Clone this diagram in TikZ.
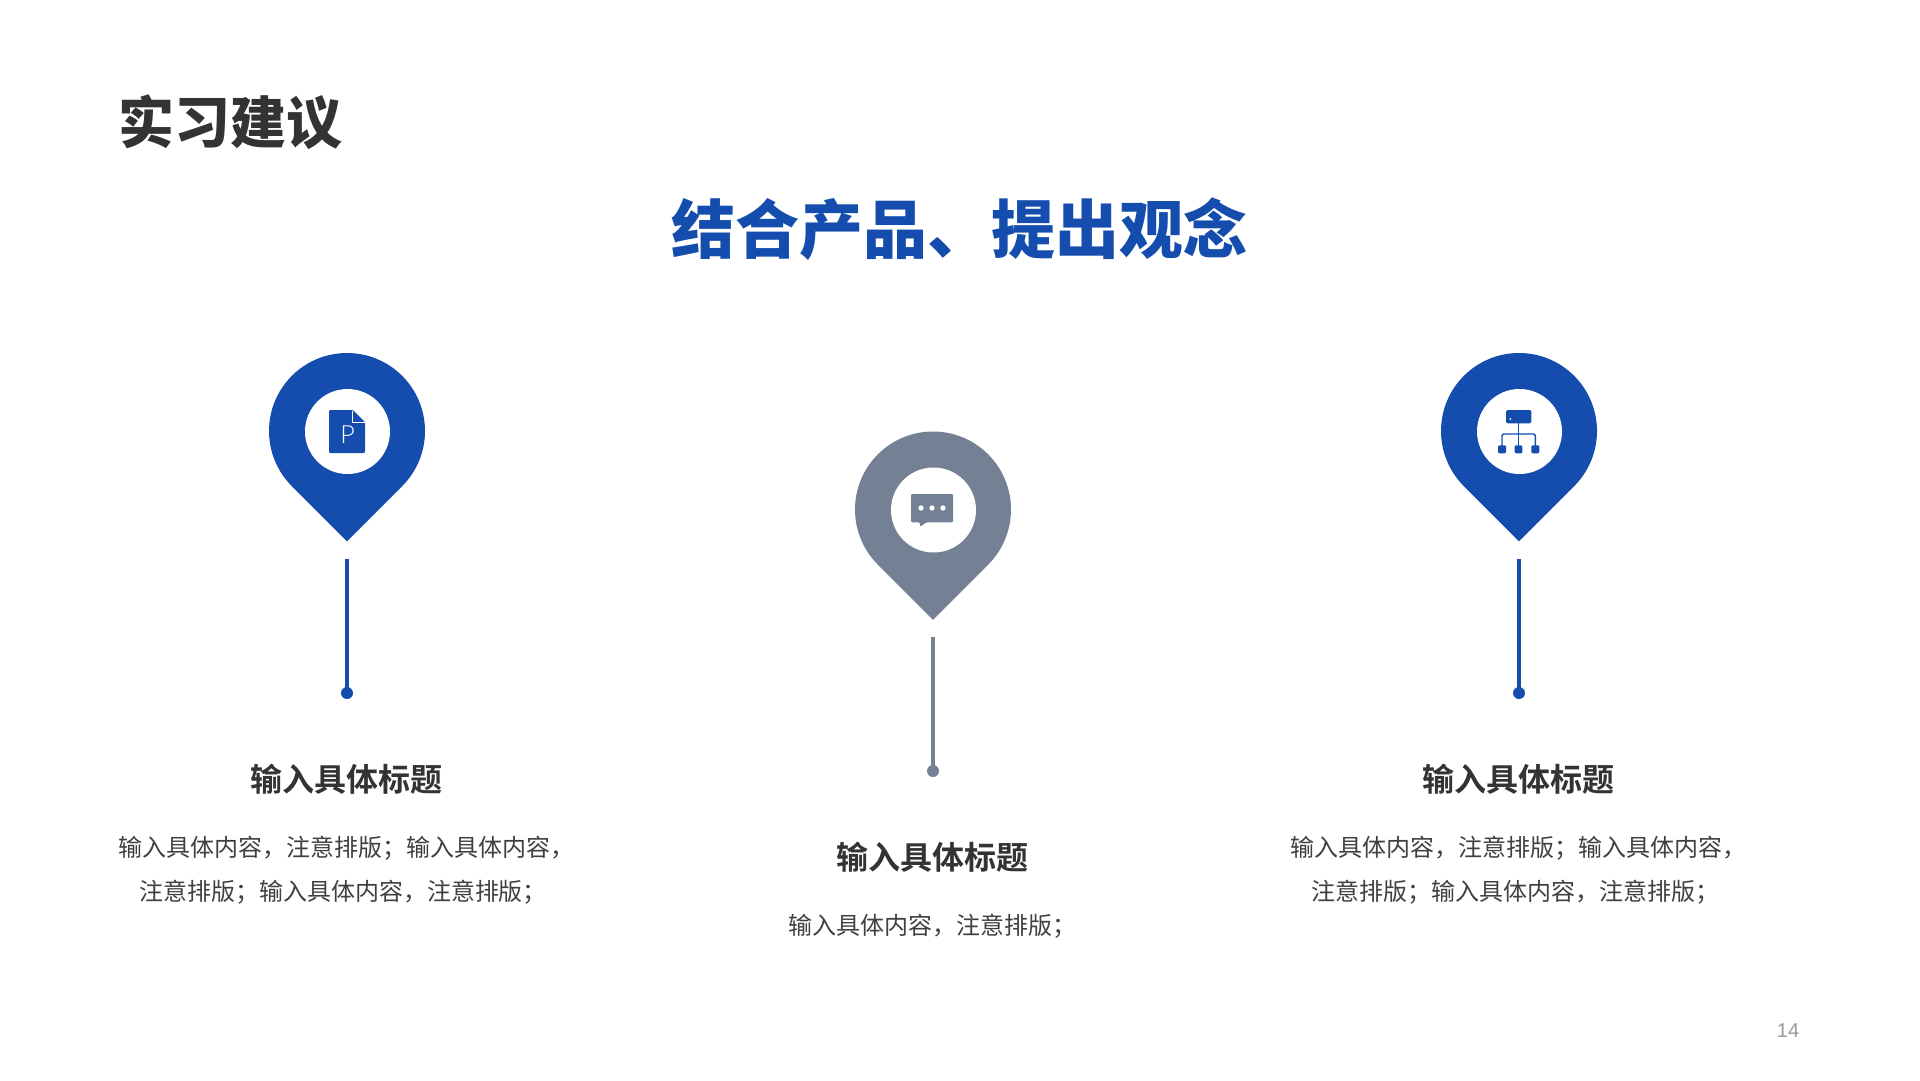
\documentclass[tikz,border=0pt]{standalone}
\usepackage{fontspec}
\setmainfont{Noto Sans CJK SC}
\newfontfamily\heavyf{Noto Sans CJK SC Black}
\newfontfamily\boldf{Noto Sans CJK SC Bold}
\newfontfamily\lightf{Lato Light}
\newfontfamily\numf{Liberation Sans}
\definecolor{pinblue}{HTML}{144DAD}
\definecolor{pingray}{HTML}{748194}
\definecolor{ink}{HTML}{333333}
\definecolor{bodyink}{HTML}{404040}
\definecolor{pagegray}{HTML}{999999}
\tikzset{
  x=1pt,y=-1pt,
  locpin/.pic={
    \path[pic actions] (0pt,-110.3pt) -- (-55.15pt,-55.15pt) arc[start angle=225,end angle=-45,radius=78pt] -- cycle;
  },
  hole/.style={circle,fill=white,draw=none,minimum size=85pt,inner sep=0pt},
  stem/.style={line width=4pt},
  enddot/.style={circle,minimum size=12pt,inner sep=0pt,draw=none},
  headtxt/.style={text=ink,font=\boldf\fontsize{32}{32}\selectfont,inner sep=0pt},
  bodytxt/.style={text=bodyink,font=\fontsize{24}{44}\selectfont,align=center,inner sep=0pt},
}
\begin{document}
\begin{tikzpicture}
\useasboundingbox (0,0) rectangle (1920,1080);
\fill[white] (0,0) rectangle (1920,1080);

\node[text=ink,font=\heavyf\fontsize{56}{56}\selectfont,inner sep=0pt] (title) at (230,122) {实习建议};
\node[text=pinblue,font=\heavyf\fontsize{64}{64}\selectfont,inner sep=0pt] (subtitle) at (959,229) {结合产品、提出观念};

% left pin
\pic[fill=pinblue] at (347,431) {locpin};
\node[hole] (holeL) at (347.5,431.5) {};
\coordinate (stemL) at (347,559);
\node[enddot,fill=pinblue] (dotL) at (347,693) {};
\draw[stem,pinblue] (stemL) -- (dotL.center);
\fill[pinblue,rounded corners=1.2pt] (329,410) -- (353,410) -- (365,422) -- (365,453) -- (329,453) -- cycle;
\draw[white,line width=1pt] (352.8,410.5) -- (352.8,422.6) -- (365,422.6);
\node[text=white,font=\lightf\fontsize{25}{25}\selectfont,inner sep=0pt] (pLabel) at (347.5,435) {P};
\node[headtxt] (headL) at (346,779) {输入具体标题};
\node[bodytxt] (bodyL) at (346.5,870.5) {输入具体内容，注意排版；输入具体内容，\\注意排版；输入具体内容，注意排版；\hspace*{7pt}};

% middle pin
\pic[fill=pingray] at (933,509.5) {locpin};
\node[hole] (holeM) at (933.5,510) {};
\coordinate (stemM) at (933,637);
\node[enddot,fill=pingray] (dotM) at (933,771) {};
\draw[stem,pingray] (stemM) -- (dotM.center);
\fill[pingray,rounded corners=1.2pt] (911,494) -- (953,494) -- (953,522.3) -- (926.5,522.3) -- (920,526.8) -- (920,522.3) -- (911,522.3) -- cycle;
\fill[white] (921,508) circle[radius=2.7pt] (932,508) circle[radius=2.7pt] (943,508) circle[radius=2.7pt];
\node[headtxt] (headM) at (932,857.5) {输入具体标题};
\node[bodytxt] (bodyM) at (932.5,926.5) {输入具体内容，注意排版；};

% right pin
\pic[fill=pinblue] at (1519,431) {locpin};
\node[hole] (holeR) at (1519.5,431.5) {};
\coordinate (stemR) at (1519,559);
\node[enddot,fill=pinblue] (dotR) at (1519,693) {};
\draw[stem,pinblue] (stemR) -- (dotR.center);
\fill[pinblue,rounded corners=1.5pt] (1506,410) rectangle (1531.3,423.3);
\fill[white] (1510.3,419) circle[radius=1pt];
\draw[pinblue,line width=1.4pt] (1518.4,423) -- (1518.4,446);
\draw[pinblue,line width=1.4pt,rounded corners=2pt] (1502,446) -- (1502,434) -- (1535.3,434) -- (1535.3,446);
\fill[pinblue,rounded corners=1.2pt] (1498,445.3) rectangle (1506,453.3);
\fill[pinblue,rounded corners=1.2pt] (1514.6,445.3) rectangle (1522.4,453.3);
\fill[pinblue,rounded corners=1.2pt] (1531.3,445.3) rectangle (1539.3,453.3);
\node[headtxt] (headR) at (1518,779) {输入具体标题};
\node[bodytxt] (bodyR) at (1518.5,870.5) {输入具体内容，注意排版；输入具体内容，\\注意排版；输入具体内容，注意排版；\hspace*{7pt}};

\node[text=pagegray,font=\numf\fontsize{20}{20}\selectfont,inner sep=0pt] (pageno) at (1788,1030.5) {14};
\end{tikzpicture}
\end{document}
